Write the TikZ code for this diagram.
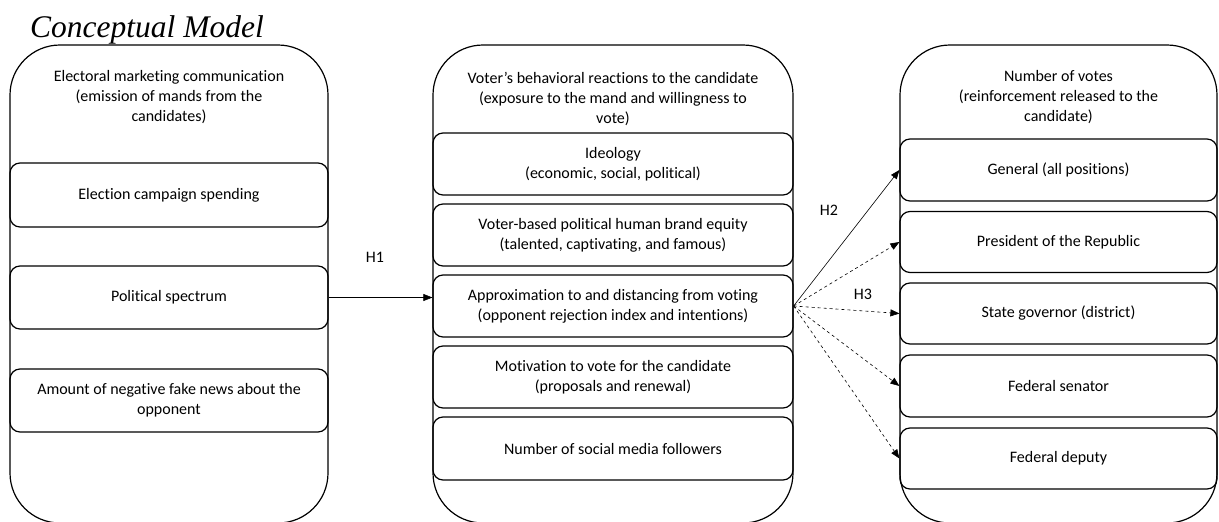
\documentclass[tikz,border=0pt]{standalone}
\usepackage{fontspec}
\setmainfont{Carlito}[Ligatures=NoCommon]
\newfontfamily\titlefont{Liberation Serif}
\usetikzlibrary{arrows.meta}

\begin{document}
\begin{tikzpicture}[
  x=1pt,
  y=-1pt,
  every node/.style={font=\fontsize{16}{20}\selectfont, align=center},
  outerbox/.style={draw, line width=1.2pt, rounded corners=50pt, minimum height=478pt, inner sep=0pt},
  itembox/.style={draw, line width=1.2pt, rounded corners=10pt, inner sep=2pt},
  hyp/.style={font=\fontsize{16}{18}\selectfont},
  link/.style={line width=0.6pt, -{Triangle[length=9pt,width=7pt]}},
  >=Triangle
]
  \useasboundingbox (0,0) rectangle (1219,522);

  % title
  \node[anchor=base west, inner sep=0pt, font=\titlefont\itshape\fontsize{31.5}{33}\selectfont] (title) at (30,37) {Conceptual Model};

  % outer columns
  \node[outerbox, minimum width=318pt] (lcol) at (169,284) {};
  \node[outerbox, minimum width=360pt] (mcol) at (613,284) {};
  \node[outerbox, minimum width=317pt] (rcol) at (1058.5,284) {};

  \node (lhead) at (169,97) {Electoral marketing communication\\(emission of mands from the\\candidates)};
  \node (mhead) at (613,99) {Voter’s behavioral reactions to the candidate\\(exposure to the mand and willingness to\\vote)};
  \node (rhead) at (1058.5,97) {Number of votes\\(reinforcement released to the\\candidate)};

  % left items
  \node[itembox, minimum width=318pt, minimum height=64pt] (lspend) at (169,195) {Election campaign spending};
  \node[itembox, minimum width=318pt, minimum height=63pt] (lpol) at (169,297.5) {Political spectrum};
  \node[itembox, minimum width=318pt, minimum height=63pt] (lfake) at (169,400.5) {Amount of negative fake news about the\\opponent};

  % middle items
  \node[itembox, minimum width=360pt, minimum height=62pt] (mideo) at (613,164) {Ideology\\(economic, social, political)};
  \node[itembox, minimum width=360pt, minimum height=62pt] (mbrand) at (613,235) {Voter-based political human brand equity\\(talented, captivating, and famous)};
  \node[itembox, minimum width=360pt, minimum height=62pt] (mappr) at (613,306) {Approximation to and distancing from voting\\(opponent rejection index and intentions)};
  \node[itembox, minimum width=360pt, minimum height=62pt] (mmotiv) at (613,377) {Motivation to vote for the candidate\\(proposals and renewal)};
  \node[itembox, minimum width=360pt, minimum height=63pt] (msocial) at (613,448.5) {Number of social media followers};

  % right items
  \node[itembox, minimum width=317pt, minimum height=62pt] (rgen) at (1058.5,170) {General (all positions)};
  \node[itembox, minimum width=317pt, minimum height=61pt] (rpres) at (1058.5,242) {President of the Republic};
  \node[itembox, minimum width=317pt, minimum height=61pt] (rgov) at (1058.5,313.5) {State governor (district)};
  \node[itembox, minimum width=317pt, minimum height=62pt] (rsen) at (1058.5,386) {Federal senator};
  \node[itembox, minimum width=317pt, minimum height=61pt] (rdep) at (1058.5,458.5) {Federal deputy};

  % hypotheses
  \draw[link] (lpol.east) -- (lpol.east -| mappr.west);
  \draw[link] (mappr.east) -- (rgen.west);
  \draw[link, dashed] (mappr.east) -- (rpres.west);
  \draw[link, dashed] (mappr.east) -- (rgov.west);
  \draw[link, dashed] (mappr.east) -- (rsen.west);
  \draw[link, dashed] (mappr.east) -- (rdep.west);

  \node[hyp] (h1) at (375,257) {H1};
  \node[hyp] (h2) at (829,210) {H2};
  \node[hyp] (h3) at (863,294) {H3};
\end{tikzpicture}
\end{document}
